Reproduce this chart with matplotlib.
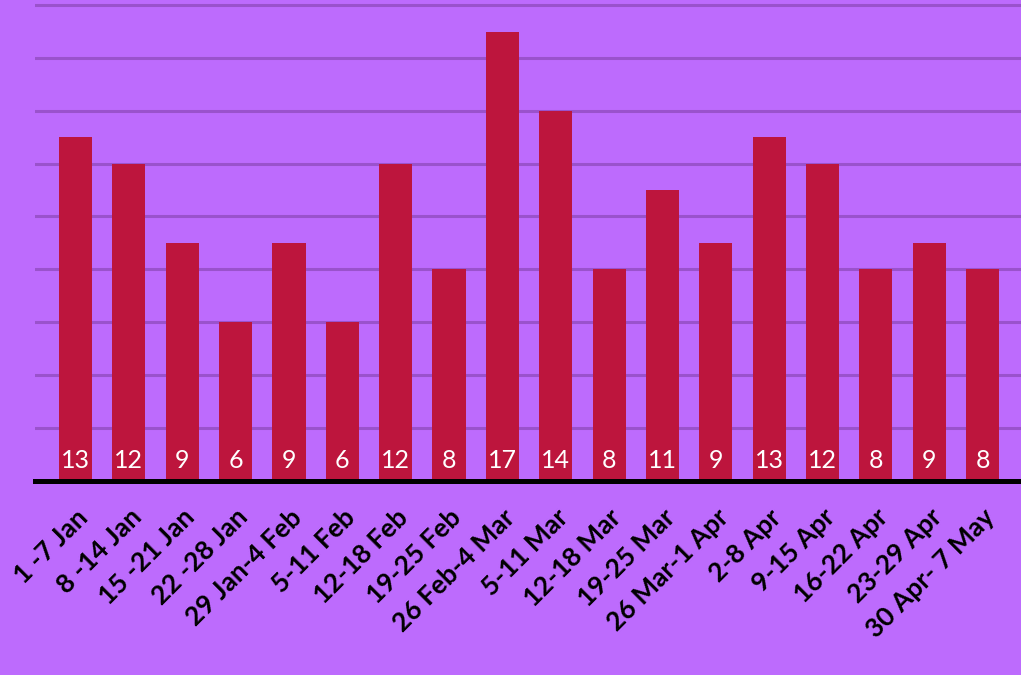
import matplotlib.pyplot as plt
import numpy as np

# ── Data ──────────────────────────────────────────────────────
weeks = ["1 -7 Jan", "8 -14 Jan", "15 -21 Jan", "22 -28 Jan", "29 Jan-4 Feb",
         "5-11 Feb", "12-18 Feb", "19-25 Feb", "26 Feb-4 Mar", "5-11 Mar",
         "12-18 Mar", "19-25 Mar", "26 Mar-1 Apr", "2-8 Apr", "9-15 Apr",
         "16-22 Apr", "23-29 Apr", "30 Apr- 7 May"]
counts = [13, 12, 9, 6, 9, 6, 12, 8, 17, 14, 8, 11, 9, 13, 12, 8, 9, 8]

# ── Style ─────────────────────────────────────────────────────
BG_COLOR   = "#bd6bfd"
BAR_COLOR  = "#bd153d"
GRID_COLOR = "#9a52cc"

fig = plt.figure(figsize=(10.21, 6.75), dpi=100, facecolor=BG_COLOR)
ax = fig.add_axes([35 / 1021, 194.5 / 675, 986 / 1021, 480.5 / 675])
ax.set_facecolor(BG_COLOR)

x = np.arange(len(weeks))
ax.bar(x, counts, width=0.62, color=BAR_COLOR, zorder=3)

for xi, v in zip(x, counts):
    ax.text(xi, 0.77, str(v), ha="center", va="center", color="white",
            fontsize=18, family="Lato", zorder=4)

ax.set_xlim(-0.76, 17.72)
ax.set_ylim(0, 18.2)
ax.set_yticks(np.arange(2, 19, 2))
ax.yaxis.grid(True, color=GRID_COLOR, linewidth=2.2, zorder=0)
ax.tick_params(axis="y", left=False, labelleft=False)
ax.tick_params(axis="x", bottom=False, pad=14)

ax.set_xticks(x)
ax.set_xticklabels(weeks, rotation=45, ha="right", rotation_mode="anchor",
                   fontsize=19, fontweight="bold", family="Lato", color="black")

for side in ["top", "right", "left"]:
    ax.spines[side].set_visible(False)
ax.spines["bottom"].set_color("black")
ax.spines["bottom"].set_linewidth(3.6)
ax.spines["bottom"].set_zorder(5)

fig.savefig("out.png", dpi=100, facecolor=BG_COLOR)
